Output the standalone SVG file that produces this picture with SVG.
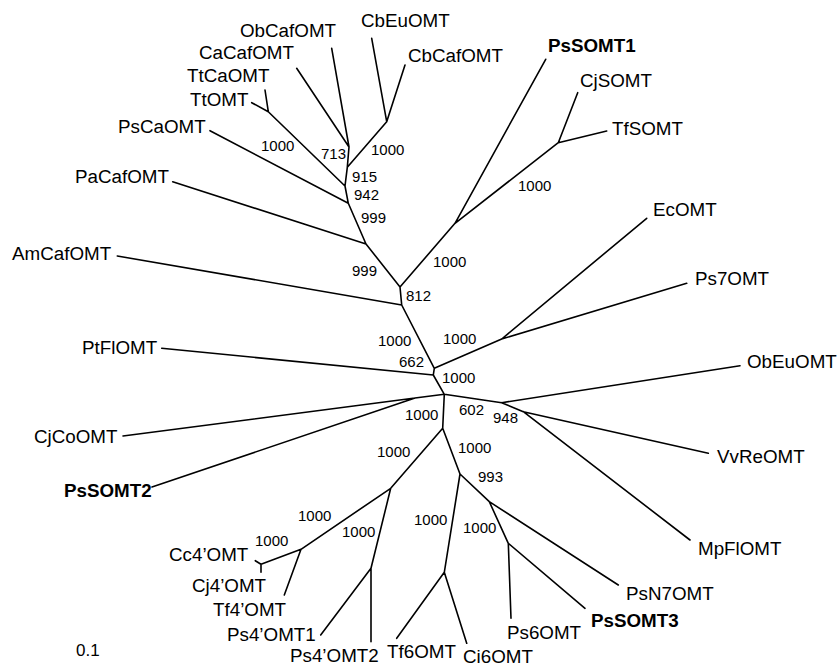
<svg xmlns="http://www.w3.org/2000/svg" width="839" height="667" viewBox="0 0 839 667">
<style>
.e{fill:none;stroke:#000;stroke-width:1.6;stroke-linecap:round;stroke-linejoin:round}
.l{font-family:"Liberation Sans",Arial,sans-serif;font-size:18.8px;fill:#000}
.b{font-weight:bold}
.n{font-family:"Liberation Sans",Arial,sans-serif;font-size:15px;fill:#000}
</style>
<rect width="839" height="667" fill="#fff"/>
<g id="connectors">
<path class="e" d="M400,287 L401.7,305 L434.3,368.3 L433.3,375 L444.3,394.3
M444.3,394.3 L415,398 L123,436 M415,398 L152,487
M444.3,394.3 L501.7,402.7 L740,365.7 M501.7,402.7 L523.3,411.7 L708.3,453.3 M523.3,411.7 L690,540
M444.3,394.3 L442.7,428.3 L390.7,488.3 L301,549.3 L261,564.3 L255.3,560.7 M261,564.3 L261,572.3 M301,549.3 L284.3,595
M390.7,488.3 L371,568.3 L320.7,635 M371,568.3 L371,641.7
M442.7,428.3 L460,474 L444.3,572.3 L396.7,638.3 M444.3,572.3 L466.7,643.3
M460,474 L489.3,501.7 L618.3,585 M489.3,501.7 L508.3,543.3 L511,618.3 M508.3,543.3 L585,608.3
M434.3,368.3 L501.7,339 L646.7,218.3 M501.7,339 L686.7,283.3
M433.3,375 L161.7,348.3
M401.7,305 L117.3,256
M400,287 L455,223.3 L545.7,59.3 M455,223.3 L558.3,142.7 L577.7,92.7 M558.3,142.7 L606.7,131
M400,287 L366,244 L172.7,181.7 M366,244 L348.3,203.3 L210,130.7 M348.3,203.3 L345,186 L268.3,111.7 L251.7,102.7 M268.3,111.7 L265,90
M345,186 L347.3,167.3 L349,147 L296.7,68.3 M349,147 L331.7,48.3
M347.3,167.3 L386.7,121.7 L371.7,38.3 M386.7,121.7 L405,65"/>
</g>
<g id="leaves">
<g id="ObCafOMT"><text class="l" x="240" y="37">ObCafOMT</text></g>
<g id="CbEuOMT"><text class="l" x="361" y="27">CbEuOMT</text></g>
<g id="CaCafOMT"><text class="l" x="199" y="59">CaCafOMT</text></g>
<g id="TtCaOMT"><text class="l" x="187" y="82">TtCaOMT</text></g>
<g id="TtOMT"><text class="l" x="190" y="106">TtOMT</text></g>
<g id="PsCaOMT"><text class="l" x="118" y="133">PsCaOMT</text></g>
<g id="PaCafOMT"><text class="l" x="75" y="183">PaCafOMT</text></g>
<g id="AmCafOMT"><text class="l" x="12" y="260">AmCafOMT</text></g>
<g id="PtFlOMT"><text class="l" x="82" y="354">PtFlOMT</text></g>
<g id="CjCoOMT"><text class="l" x="34" y="443">CjCoOMT</text></g>
<g id="PsSOMT2"><text class="l b" x="64" y="497">PsSOMT2</text></g>
<g id="CbCafOMT"><text class="l" x="408" y="62">CbCafOMT</text></g>
<g id="PsSOMT1"><text class="l b" x="548" y="52">PsSOMT1</text></g>
<g id="CjSOMT"><text class="l" x="580" y="87">CjSOMT</text></g>
<g id="TfSOMT"><text class="l" x="612" y="135">TfSOMT</text></g>
<g id="EcOMT"><text class="l" x="653" y="216">EcOMT</text></g>
<g id="Ps7OMT"><text class="l" x="695" y="285">Ps7OMT</text></g>
<g id="ObEuOMT"><text class="l" x="747" y="368">ObEuOMT</text></g>
<g id="VvReOMT"><text class="l" x="717" y="463">VvReOMT</text></g>
<g id="MpFlOMT"><text class="l" x="698" y="555">MpFlOMT</text></g>
<g id="PsN7OMT"><text class="l" x="626" y="600">PsN7OMT</text></g>
<g id="PsSOMT3"><text class="l b" x="591" y="627">PsSOMT3</text></g>
<g id="Ps6OMT"><text class="l" x="507" y="639">Ps6OMT</text></g>
<g id="Ci6OMT"><text class="l" x="463" y="663">Ci6OMT</text></g>
<g id="Tf6OMT"><text class="l" x="387" y="658">Tf6OMT</text></g>
<g id="Ps4OMT2"><text class="l" x="290" y="662">Ps4’OMT2</text></g>
<g id="Ps4OMT1"><text class="l" x="227" y="641">Ps4’OMT1</text></g>
<g id="Tf4OMT"><text class="l" x="213" y="616">Tf4’OMT</text></g>
<g id="Cj4OMT"><text class="l" x="192" y="592">Cj4’OMT</text></g>
<g id="Cc4OMT"><text class="l" x="169" y="561">Cc4’OMT</text></g>
</g>
<g id="bootstrap">
<text class="n" x="261" y="151">1000</text>
<text class="n" x="321" y="159">713</text>
<text class="n" x="371" y="155">1000</text>
<text class="n" x="352" y="182">915</text>
<text class="n" x="354" y="200">942</text>
<text class="n" x="361" y="223">999</text>
<text class="n" x="352" y="276">999</text>
<text class="n" x="406" y="301">812</text>
<text class="n" x="378" y="346">1000</text>
<text class="n" x="399" y="367">662</text>
<text class="n" x="405" y="420">1000</text>
<text class="n" x="377" y="457">1000</text>
<text class="n" x="433" y="267">1000</text>
<text class="n" x="443" y="344">1000</text>
<text class="n" x="442" y="383">1000</text>
<text class="n" x="459" y="415">602</text>
<text class="n" x="493" y="423">948</text>
<text class="n" x="518" y="191">1000</text>
<text class="n" x="458" y="453">1000</text>
<text class="n" x="478" y="482">993</text>
<text class="n" x="414" y="525">1000</text>
<text class="n" x="463" y="533">1000</text>
<text class="n" x="298" y="521">1000</text>
<text class="n" x="255" y="546">1000</text>
<text class="n" x="342" y="537">1000</text>
</g>
<g id="scale"><text class="n" x="76" y="656" style="font-size:17px">0.1</text></g>
</svg>
